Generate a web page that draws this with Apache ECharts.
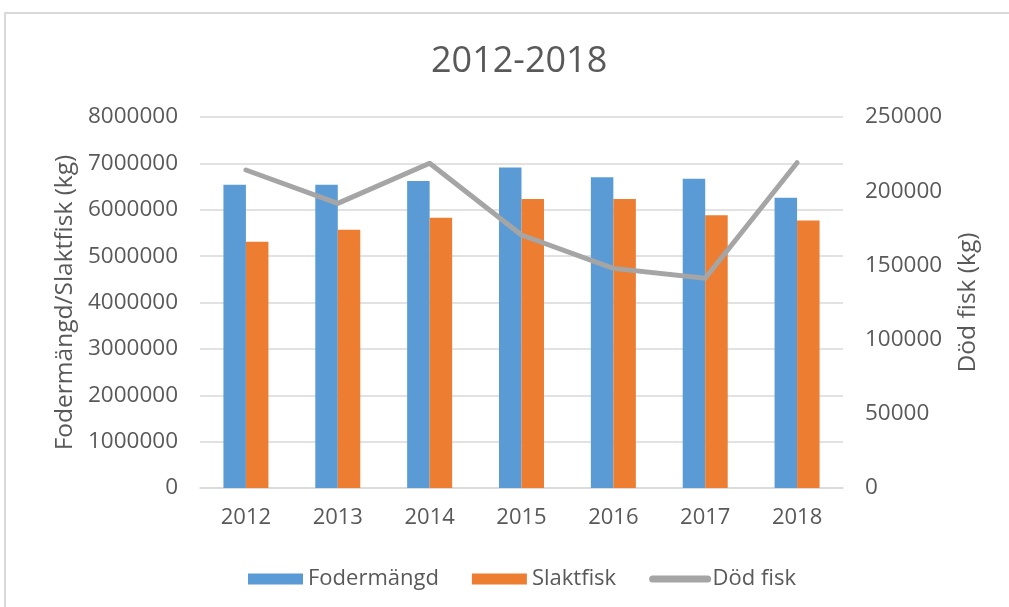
<!DOCTYPE html>
<html>
<head>
<meta charset="utf-8">
<script src="https://cdn.jsdelivr.net/npm/echarts@6/dist/echarts.min.js"></script>
<style>
    html, body { margin: 0; padding: 0; background: #fff; }
    #frame {
        position: absolute; left: 4px; top: 12px;
        width: 1100px; height: 700px;
        border: 2px solid #d9d9d9;
    }
    #chart { position: absolute; left: 0; top: 0; width: 1009px; height: 607px; }
</style>
</head>
<body>
<div id="frame"></div>
<div id="chart"></div>
<script>
const years = ['2012', '2013', '2014', '2015', '2016', '2017', '2018'];
const fodermangd = [6540000, 6540000, 6620000, 6910000, 6700000, 6670000, 6260000];
const slaktfisk = [5310000, 5570000, 5830000, 6230000, 6230000, 5880000, 5770000];
const dodFisk = [214300, 191800, 218800, 170500, 148000, 141300, 219200];

const textColor = '#595959';
const font = 'Open Sans';
const plain = v => String(v); // Excel shows no thousands separator

const chart = echarts.init(document.getElementById('chart'));
chart.setOption({
    animation: false,
    textStyle: { fontFamily: font, color: textColor },
    title: {
        text: '2012-2018',
        left: 426,
        top: 39,
        textStyle: { fontFamily: font, fontSize: 36, fontWeight: 'normal', color: textColor },
    },
    grid: { left: 200, right: 166, top: 117, bottom: 119 },
    legend: {
        top: 563,
        left: 243,
        itemWidth: 55,
        itemHeight: 11,
        itemGap: 33,
        textStyle: { fontFamily: font, fontSize: 22, color: textColor },
        data: [
            { name: 'Fodermängd', icon: 'rect' },
            { name: 'Slaktfisk', icon: 'rect' },
            {
                name: 'Död fisk',
                // plain thick line, no marker
                lineStyle: { width: 7, cap: 'round', color: '#a5a5a5' },
                itemStyle: { opacity: 0 },
            },
        ],
    },
    xAxis: {
        type: 'category',
        data: years,
        axisLine: { lineStyle: { color: '#d9d9d9', width: 1.5 } },
        axisTick: { show: false },
        axisLabel: { fontFamily: font, fontSize: 22, color: textColor, margin: 19 },
    },
    yAxis: [
        {
            type: 'value',
            min: 0,
            max: 8000000,
            interval: 1000000,
            name: 'Fodermängd/Slaktfisk (kg)',
            nameLocation: 'middle',
            nameGap: 121,
            nameTextStyle: { fontFamily: font, fontSize: 24.5, color: textColor },
            axisLabel: { fontFamily: font, fontSize: 22.5, color: textColor, margin: 22, formatter: plain },
            axisLine: { show: false },
            axisTick: { show: false },
            splitLine: { lineStyle: { color: '#d9d9d9', width: 1.5 } },
        },
        {
            type: 'value',
            min: 0,
            max: 250000,
            interval: 50000,
            name: 'Död fisk (kg)',
            nameLocation: 'middle',
            nameGap: 113,
            nameTextStyle: { fontFamily: font, fontSize: 24.5, color: textColor },
            axisLabel: { fontFamily: font, fontSize: 22.5, color: textColor, margin: 22, formatter: plain },
            axisLine: { show: false },
            axisTick: { show: false },
            splitLine: { show: false },
        },
    ],
    series: [
        {
            name: 'Fodermängd',
            type: 'bar',
            data: fodermangd,
            barWidth: 22.5,
            barGap: '0%',
            itemStyle: { color: '#5b9bd5' },
        },
        {
            name: 'Slaktfisk',
            type: 'bar',
            data: slaktfisk,
            barWidth: 22.5,
            itemStyle: { color: '#ed7d31' },
        },
        {
            name: 'Död fisk',
            type: 'line',
            yAxisIndex: 1,
            data: dodFisk,
            showSymbol: false,
            symbol: 'none',
            lineStyle: { color: '#a5a5a5', width: 5, cap: 'round', join: 'round' },
            itemStyle: { color: '#a5a5a5' },
        },
    ],
});
</script>
</body>
</html>
